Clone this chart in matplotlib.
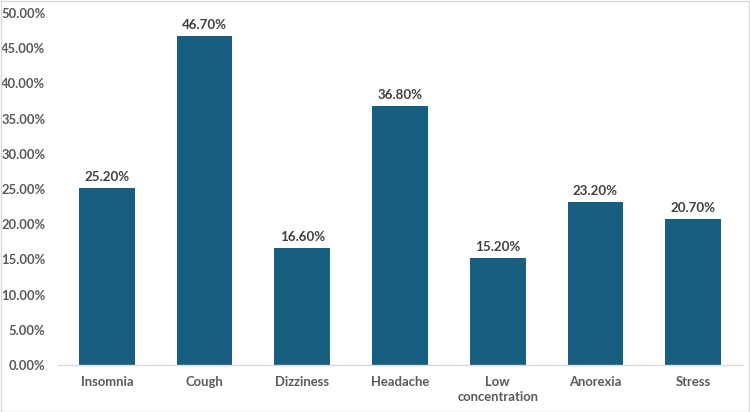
import matplotlib
matplotlib.use("Agg")
import matplotlib.pyplot as plt
from matplotlib.ticker import FuncFormatter, MultipleLocator

categories = ["Insomnia", "Cough", "Dizziness", "Headache", "Low\nconcentration", "Anorexia", "Stress"]
values = [25.2, 46.7, 16.6, 36.8, 15.2, 23.2, 20.7]

plt.rcParams['font.family'] = ['Lato', 'DejaVu Sans']

fig = plt.figure(figsize=(7.5, 4.12), dpi=100)
ax = fig.add_axes([58/750, 1-365/412, 684/750, (365-13)/412])

x = range(len(categories))
bars = ax.bar(x, values, width=0.57, color="#175E80", zorder=2)

for xi, v in zip(x, values):
    ax.annotate(f"{v:.2f}%", (xi, v), xytext=(0, 3.5), textcoords="offset points",
                ha="center", va="bottom", fontsize=9.6, fontweight="bold", color="#404040")

ax.set_xlim(-0.5, len(categories) - 0.5)
ax.set_ylim(0, 50)
ax.yaxis.set_major_locator(MultipleLocator(5))
ax.yaxis.set_major_formatter(FuncFormatter(lambda v, p: f"{v:.2f}%"))
ax.set_xticks(list(x))
ax.set_xticklabels(categories, linespacing=1.25)

for lab in ax.get_yticklabels():
    lab.set_fontweight("bold")
    lab.set_color("#595959")
    lab.set_fontsize(9.4)
for lab in ax.get_xticklabels():
    lab.set_fontweight("bold")
    lab.set_color("#595959")
    lab.set_fontsize(9.4)

ax.tick_params(axis="both", length=0)
ax.tick_params(axis="y", pad=9)
ax.tick_params(axis="x", pad=8)

for s in ["top", "right", "left"]:
    ax.spines[s].set_visible(False)
ax.spines["bottom"].set_color("#d9d9d9")
ax.spines["bottom"].set_linewidth(1)

fig.patches.append(plt.Rectangle((0.001, 0.001), 0.998, 0.997, transform=fig.transFigure,
                                 fill=False, edgecolor="#d9d9d9", linewidth=1))

fig.savefig("out.png", dpi=100)
